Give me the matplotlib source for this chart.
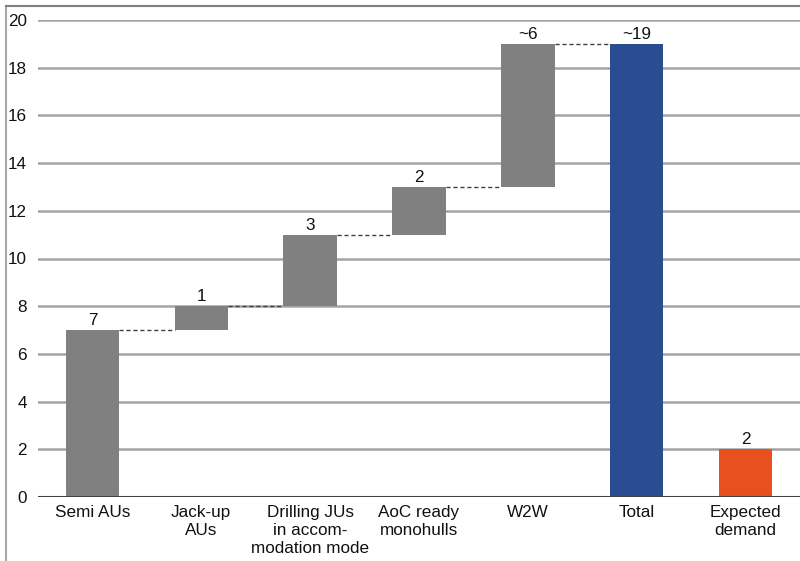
import matplotlib
matplotlib.use("Agg")
import matplotlib.pyplot as plt
from matplotlib.lines import Line2D

plt.rcParams['font.family'] = ['Liberation Sans', 'DejaVu Sans']

categories = ["Semi AUs", "Jack-up\nAUs", "Drilling JUs\nin accom-\nmodation mode",
              "AoC ready\nmonohulls", "W2W", "Total", "Expected\ndemand"]
steps = [7, 1, 3, 2, 6]          # incremental waterfall components
total = 19
demand = 2
value_labels = ["7", "1", "3", "2", "~6", "~19", "2"]
yticks = [0, 2, 4, 6, 8, 10, 12, 14, 16, 18, 20]

grey = "#808080"
blue = "#2a4d92"
orange = "#e8501e"
FS = 12.3

fig = plt.figure(figsize=(8.0, 5.61), dpi=100)
ax = fig.add_axes([38 / 800, 1 - 497 / 561, 1 - 38 / 800, (497 - 20) / 561])

# outer frame (top and left edges)
fig.add_artist(Line2D([6 / 800, 6 / 800], [0, 1 - 6 / 561], transform=fig.transFigure,
                      color="#a8a8a8", lw=1.5))
fig.add_artist(Line2D([6 / 800, 1], [1 - 6 / 561, 1 - 6 / 561], transform=fig.transFigure,
                      color="#808080", lw=1.5))

width = 0.49
bottoms = []
tops = []
running = 0
for s in steps:
    bottoms.append(running)
    running += s
    tops.append(running)

x = list(range(len(categories)))
heights = steps + [total, demand]
bases = bottoms + [0, 0]
colors = [grey] * len(steps) + [blue, orange]

for gy in yticks[1:]:
    ax.axhline(gy, color="#a4a4a4", lw=1.8, zorder=0)
ax.axhline(0, color="#404040", lw=2.2, zorder=3)

ax.bar(x, heights, bottom=bases, width=width, color=colors, zorder=2)

# dashed connectors between consecutive bars
level_tops = tops + [total]
for i in range(len(steps)):
    ax.plot([i + width / 2, i + 1 - width / 2], [level_tops[i], level_tops[i]],
            color="#404040", lw=1.0, ls=(0, (3, 2)), zorder=1)

label_y = tops + [total, demand]
for xi, yv, txt in zip(x, label_y, value_labels):
    ax.text(xi, yv + 0.08, txt, ha="center", va="bottom", fontsize=FS, color="#111111")

ax.set_xlim(-0.5, 6.5)
ax.set_ylim(0, 20)
ax.set_yticks(yticks)
ax.set_yticklabels([str(t) for t in yticks], fontsize=FS, color="#111111")
ax.set_xticks(x)
ax.set_xticklabels(categories, fontsize=FS, color="#111111", linespacing=1.25)
ax.tick_params(axis="both", length=0)
ax.tick_params(axis="y", pad=8)
ax.tick_params(axis="x", pad=6)
for sp in ax.spines.values():
    sp.set_visible(False)

fig.savefig("out.png", dpi=100)
